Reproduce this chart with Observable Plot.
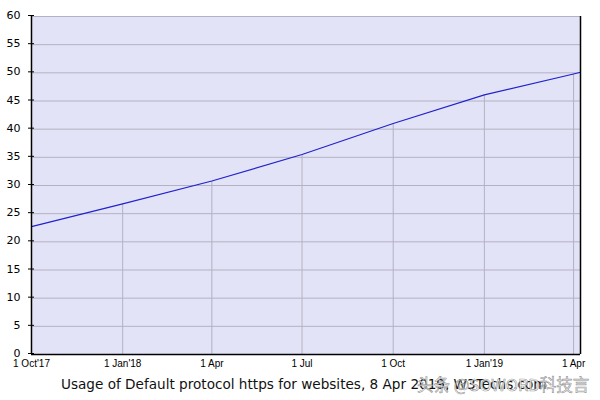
<!DOCTYPE html>
<html>
<head>
<meta charset="utf-8">
<script src="https://cdn.jsdelivr.net/npm/d3@7"></script>
<script src="https://cdn.jsdelivr.net/npm/@observablehq/plot@0.6"></script>
<style>
  body { margin: 0; background: #fff; }
  #wrap { position: relative; width: 600px; height: 400px; }
  #caption { position: absolute; left: 61px; top: 376px; font: 13.6px "DejaVu Sans", Verdana, sans-serif; color: #111; white-space: nowrap; }
  #mark { position: absolute; left: 417px; top: 372px; font: 16.5px "Noto Sans CJK SC", sans-serif; color: rgba(255,255,255,0.85); -webkit-text-stroke: 0.6px rgba(90,90,90,0.7); white-space: nowrap; }
</style>
</head>
<body>
<div id="wrap">
  <div id="chart"></div>
  <div id="caption">Usage of Default protocol https for websites, 8 Apr 2019, W3Techs.com</div>
  <div id="mark">头条 @SOWORD科技言</div>
</div>
<script>
const dates = ["2017-10-01", "2018-01-01", "2018-04-01", "2018-07-01", "2018-10-01", "2019-01-01", "2019-04-01", "2019-04-08"];
const values = [22.7, 26.75, 30.8, 35.5, 41.0, 46.1, 49.8, 50.1];
const tickDates = ["2017-10-01", "2018-01-01", "2018-04-01", "2018-07-01", "2018-10-01", "2019-01-01", "2019-04-01"];
const tickLabels = ["1 Oct'17", "1 Jan'18", "1 Apr", "1 Jul", "1 Oct", "1 Jan'19", "1 Apr"];
const yTicks = [0, 5, 10, 15, 20, 25, 30, 35, 40, 45, 50, 55, 60];

const data = dates.map((d, i) => ({date: new Date(d), value: values[i]}));
const ticks = tickDates.map(d => new Date(d));
const tickRows = data.filter(r => ticks.some(t => +t === +r.date));
const labelOf = d => tickLabels[ticks.findIndex(t => +t === +d)];
const x0 = new Date("2017-10-01"), x1 = new Date("2019-04-08");

const chart = Plot.plot({
  width: 600,
  height: 370,
  marginLeft: 31,
  marginRight: 20,
  marginTop: 16,
  marginBottom: 16,
  x: {type: "utc", domain: [x0, x1]},
  y: {domain: [0, 60]},
  style: {fontFamily: "'DejaVu Sans', Verdana, sans-serif", color: "#000", background: "#fff"},
  marks: [
    Plot.frame({fill: "#e3e3f7", stroke: null}),
    Plot.gridY(yTicks, {stroke: "#b2b2c2", strokeOpacity: 1}),
    Plot.ruleX(tickRows, {x: "date", y1: 0, y2: "value", stroke: "#b2b2c2", strokeOpacity: 1}),
    Plot.line(data, {x: "date", y: "value", stroke: "#2222cc", strokeWidth: 1.2}),
    Plot.ruleY([0], {stroke: "#000", strokeWidth: 1.5}),
    Plot.ruleX([x0], {stroke: "#000", strokeWidth: 1.5}),
    Plot.ruleX([x1], {stroke: "#000", strokeWidth: 1.5}),
    Plot.axisY({ticks: yTicks, tickSize: 6, dx: 3, dy: -1, tickPadding: 8, fontSize: 11, label: null, stroke: "#000"}),
    Plot.axisX({ticks: ticks, tickSize: 0, tickPadding: 5, tickFormat: labelOf, fontSize: 10, fontFamily: "'Liberation Sans', Arial, sans-serif", label: null})
  ]
});
document.getElementById("chart").appendChild(chart);
</script>
</body>
</html>
